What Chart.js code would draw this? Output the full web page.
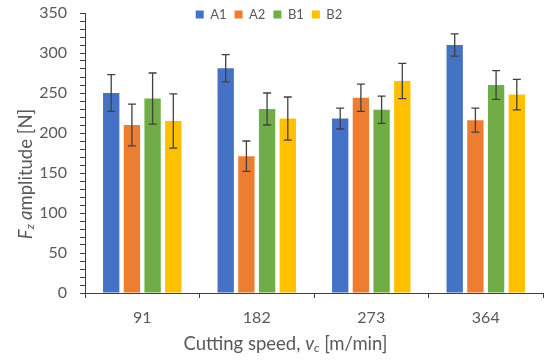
<!DOCTYPE html>
<html>
<head>
<meta charset="utf-8">
<script src="https://cdn.jsdelivr.net/npm/chart.js@4.4.1/dist/chart.umd.min.js"></script>
<style>
  html, body { margin: 0; padding: 0; background: #fff; }
  #wrap { width: 550px; height: 361px; }
</style>
</head>
<body>
<div id="wrap"><canvas id="chart" width="550" height="361"></canvas></div>
<script>
  // --- Data ---
  const speeds = ['91', '182', '273', '364'];
  const seriesNames = ['A1', 'A2', 'B1', 'B2'];
  const a1 = [250, 281, 218, 310];
  const a2 = [210, 171, 244, 216];
  const b1 = [243, 230, 229, 260];
  const b2 = [215, 218, 265, 248];
  const a1Err = [23, 17, 13, 14];
  const a2Err = [26, 19, 17, 15];
  const b1Err = [32, 20, 17, 18];
  const b2Err = [34, 27, 22, 19];
  const yTicks = [0, 50, 100, 150, 200, 250, 300, 350];

  const COLORS = ['#4472C4', '#ED7D31', '#70AD47', '#FFC000'];
  const TEXT = '#595959';
  const AXIS = '#404040';
  const FONT = 'Lato';

  // error bars drawn from the y scale
  const errorBars = {
    id: 'errorBars',
    afterDatasetsDraw(chart) {
      const ctx = chart.ctx;
      const y = chart.scales.y;
      ctx.save();
      ctx.strokeStyle = AXIS;
      ctx.lineWidth = 1.3;
      chart.data.datasets.forEach((ds, i) => {
        chart.getDatasetMeta(i).data.forEach((bar, j) => {
          const v = ds.data[j], e = ds.errors[j];
          const top = y.getPixelForValue(v + e);
          const bot = y.getPixelForValue(v - e);
          ctx.beginPath();
          ctx.moveTo(bar.x, top); ctx.lineTo(bar.x, bot);
          ctx.moveTo(bar.x - 4, top); ctx.lineTo(bar.x + 4, top);
          ctx.moveTo(bar.x - 4, bot); ctx.lineTo(bar.x + 4, bot);
          ctx.stroke();
        });
      });
      ctx.restore();
    }
  };

  // draw a run of text pieces with mixed styles
  function drawRun(ctx, parts, cx, cy) {
    let total = 0;
    parts.forEach(p => { ctx.font = p.font; p.w = ctx.measureText(p.t).width; total += p.w; });
    let x = cx - total / 2;
    parts.forEach(p => {
      ctx.font = p.font;
      ctx.fillText(p.t, x, cy + (p.dy || 0));
      x += p.w;
    });
  }

  // axis titles with italic symbols and subscripts
  const axisTitles = {
    id: 'axisTitles',
    afterDraw(chart) {
      const ctx = chart.ctx;
      ctx.save();
      ctx.fillStyle = TEXT;
      ctx.textAlign = 'left';
      ctx.textBaseline = 'middle';
      drawRun(ctx, [
        { t: 'Cutting speed, ', font: `18.5px ${FONT}` },
        { t: 'v', font: `italic 18.5px ${FONT}` },
        { t: 'c', font: `italic 12px ${FONT}`, dy: 4 },
        { t: ' [m/min]', font: `18.5px ${FONT}` },
      ], 285.5, 344);
      ctx.translate(26, 174);
      ctx.rotate(-Math.PI / 2);
      drawRun(ctx, [
        { t: 'F', font: `italic 18.5px ${FONT}` },
        { t: 'z', font: `italic 12px ${FONT}`, dy: 4 },
        { t: ' a', font: `italic 18.5px ${FONT}` },
        { t: 'mplitude [N]', font: `18.5px ${FONT}` },
      ], 0, 0);
      ctx.restore();
    }
  };

  // keep the legend short so the plot reaches the top
  const legendFit = {
    id: 'legendFit',
    beforeInit(chart) {
      const fit = chart.legend.fit;
      chart.legend.fit = function () {
        fit.bind(chart.legend)();
        this.height = 13;
      };
    },
    afterLayout(chart) {
      chart.legend.right -= 5;
      chart.legend.bottom = 30;
    }
  };

  const values = [a1, a2, b1, b2];
  const errors = [a1Err, a2Err, b1Err, b2Err];

  new Chart(document.getElementById('chart'), {
    type: 'bar',
    data: {
      labels: speeds,
      datasets: seriesNames.map((name, i) => ({
        label: name,
        data: values[i],
        errors: errors[i],
        backgroundColor: COLORS[i],
        borderWidth: 0,
        categoryPercentage: 0.723,
        barPercentage: 0.79,
      })),
    },
    options: {
      responsive: false,
      animation: false,
      layout: { padding: { left: 0, right: 7, top: 0, bottom: 0 } },
      plugins: {
        legend: {
          position: 'top',
          labels: {
            boxWidth: 8,
            boxHeight: 8,
            padding: 8,
            color: TEXT,
            font: { family: FONT, size: 13 },
          },
        },
        tooltip: { enabled: false },
      },
      scales: {
        x: {
          grid: { drawOnChartArea: false, offset: true, tickLength: 5, color: AXIS, tickColor: AXIS },
          border: { color: AXIS, width: 1 },
          ticks: { color: TEXT, font: { family: FONT, size: 16 }, padding: 10 },
          afterFit(scale) { scale.height = 68; },
        },
        y: {
          min: 0,
          max: 350,
          grid: { drawOnChartArea: false, tickLength: 5, color: AXIS, tickColor: AXIS },
          border: { color: AXIS, width: 1 },
          ticks: {
            stepSize: 10,
            autoSkip: false,
            padding: 13,
            color: TEXT,
            font: { family: FONT, size: 16 },
            callback: v => (yTicks.includes(v) ? v : ''),
          },
          afterFit(scale) {
            scale.width = 85;
            scale.paddingTop = 0;
            scale.paddingBottom = 0;
          },
        },
      },
    },
    plugins: [errorBars, axisTitles, legendFit],
  });
</script>
</body>
</html>
